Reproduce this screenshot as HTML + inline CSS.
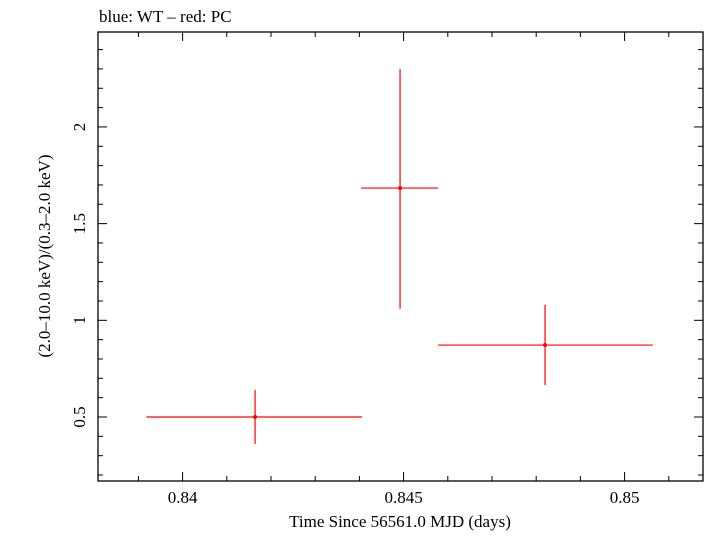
<!DOCTYPE html>
<html><head><meta charset="utf-8"><style>
body{margin:0;background:#fff}
svg text{font-family:"Liberation Serif",serif;fill:#000}
</style></head><body>
<svg id="chart" width="705" height="532">
<text x="99" y="22" font-size="17">blue: WT – red: PC</text>
<rect x="98" y="32" width="605" height="449" fill="none" stroke="#000" stroke-width="1.3"/>
<g id="ticks"></g>
<g id="marks"></g>
<text x="400" y="527" font-size="17" text-anchor="middle">Time Since 56561.0 MJD (days)</text>
<text transform="translate(50,256) rotate(-90)" font-size="17" text-anchor="middle">(2.0–10.0 keV)/(0.3–2.0 keV)</text>
</svg>
<script>
const times = [0.84164, 0.84492, 0.8482];
const timeLo = [0.83918, 0.84404, 0.84578];
const timeHi = [0.84406, 0.84578, 0.85064];
const ratios = [0.5, 1.684, 0.872];
const ratioLo = [0.36, 1.06, 0.665];
const ratioHi = [0.64, 2.30, 1.08];
const xTicks = [0.84, 0.845, 0.85];
const xTickLabels = ["0.84", "0.845", "0.85"];
const yTicks = [0.5, 1, 1.5, 2];
const yTickLabels = ["0.5", "1", "1.5", "2"];

const L=98,R=703,T=32,B=481;
const X0=0.838086,X1=0.851774,Y0=0.169,Y1=2.491;
const sx=v=>L+(v-X0)/(X1-X0)*(R-L);
const sy=v=>B-(v-Y0)/(Y1-Y0)*(B-T);
const NS="http://www.w3.org/2000/svg";
function mk(tag,attrs,parent){const e=document.createElementNS(NS,tag);for(const k in attrs)e.setAttribute(k,attrs[k]);parent.appendChild(e);return e;}
const tg=document.getElementById('ticks'), mg=document.getElementById('marks');
// minor x ticks
for(let i=Math.ceil(X0*1000);i<=Math.floor(X1*1000);i++){
  const v=i/1000,x=sx(v),major=(i%5===0),len=major?9:5;
  const a=mk('line',{x1:x,x2:x,y1:B,y2:B-len,stroke:'#000','stroke-width':1},tg);
  
  
  const b=mk('line',{x1:x,x2:x,y1:T,y2:T+len,stroke:'#000','stroke-width':1},tg);
  
  
}
for(let i=Math.ceil(Y0*10);i<=Math.floor(Y1*10);i++){
  const v=i/10,y=sy(v),major=(i%5===0),len=major?9:5;
  const a=mk('line',{x1:L,x2:L+len,y1:y,y2:y,stroke:'#000','stroke-width':1},tg);
  
  
  const b=mk('line',{x1:R,x2:R-len,y1:y,y2:y,stroke:'#000','stroke-width':1},tg);
  
  
}
xTicks.forEach((v,i)=>{
  const t=mk('text',{x:sx(v),y:503,'font-size':17,'text-anchor':'middle'},tg);
  t.textContent=xTickLabels[i];
  
  
});
yTicks.forEach((v,i)=>{
  const y=sy(v);
  const t=mk('text',{transform:`translate(85,${y}) rotate(-90)`,'font-size':17,'text-anchor':'middle'},tg);
  t.textContent=yTickLabels[i];
  
  
});
times.forEach((t,i)=>{
  const h=mk('line',{x1:sx(timeLo[i]),x2:sx(timeHi[i]),y1:sy(ratios[i]),y2:sy(ratios[i]),stroke:'#f00','stroke-width':1.2},mg);
  
  
  const v=mk('line',{x1:sx(t),x2:sx(t),y1:sy(ratioLo[i]),y2:sy(ratioHi[i]),stroke:'#f00','stroke-width':1.2},mg);
  
  
  const c=mk('circle',{cx:sx(t),cy:sy(ratios[i]),r:2,fill:'#f00'},mg);
  
  
});
</script>
</body></html>
